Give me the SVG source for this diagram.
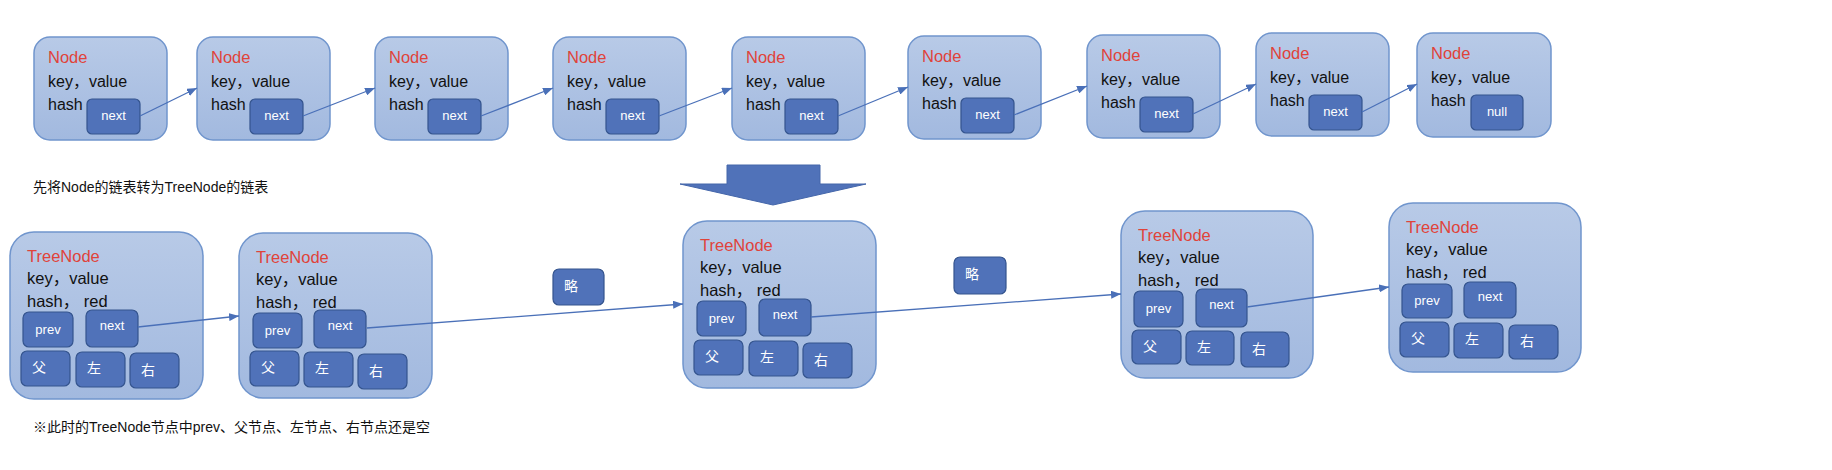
<svg xmlns="http://www.w3.org/2000/svg" width="1832" height="470" viewBox="0 0 1832 470">
<defs>
<linearGradient id="g" x1="0" y1="0" x2="0" y2="1">
<stop offset="0" stop-color="#b8cae7"/>
<stop offset="1" stop-color="#a2b9df"/>
</linearGradient>
<marker id="ah" markerWidth="10" markerHeight="8" refX="10" refY="4" orient="auto" markerUnits="userSpaceOnUse">
<path d="M0,0 L10,4 L0,8 z" fill="#4a70b8"/>
</marker>
</defs>
<style>
.outer{fill:url(#g);stroke:#7095cd;stroke-width:1.5}
.inner{fill:#5072b9;stroke:#34548e;stroke-width:1.2}
.t{font-family:"Liberation Sans","Noto Sans CJK SC",sans-serif;fill:#111}
.title{font-size:16.5px;fill:#e0433a}
.f{font-size:16px}
.tt{font-size:16.5px;fill:#e0433a}
.tf{font-size:16.5px}
.w{font-family:"Liberation Sans","Noto Sans CJK SC",sans-serif;fill:#ffffff;font-size:13px}
.wc{font-family:"Noto Sans CJK SC",sans-serif;fill:#ffffff;font-size:14px}
.note{font-family:"Liberation Sans","Noto Sans CJK SC",sans-serif;fill:#111;font-size:14px}
.arr{fill:none;stroke:#4a70b8;stroke-width:1.3;marker-end:url(#ah)}
</style>
<rect width="1832" height="470" fill="#ffffff"/>

<!-- Top row Nodes -->
<g id="node1" transform="translate(34,37)">
<rect class="outer" width="133" height="103" rx="16"/>
<text class="t title" x="14" y="26">Node</text>
<text class="t f" x="14" y="50">key，value</text>
<text class="t f" x="14" y="73">hash</text>
<rect class="inner" x="53" y="62" width="53" height="35" rx="5"/>
<text class="w" x="79.5" y="83" text-anchor="middle">next</text>
</g>
<g id="node2" transform="translate(197,37)">
<rect class="outer" width="133" height="103" rx="16"/>
<text class="t title" x="14" y="26">Node</text>
<text class="t f" x="14" y="50">key，value</text>
<text class="t f" x="14" y="73">hash</text>
<rect class="inner" x="53" y="62" width="53" height="35" rx="5"/>
<text class="w" x="79.5" y="83" text-anchor="middle">next</text>
</g>
<g id="node3" transform="translate(375,37)">
<rect class="outer" width="133" height="103" rx="16"/>
<text class="t title" x="14" y="26">Node</text>
<text class="t f" x="14" y="50">key，value</text>
<text class="t f" x="14" y="73">hash</text>
<rect class="inner" x="53" y="62" width="53" height="35" rx="5"/>
<text class="w" x="79.5" y="83" text-anchor="middle">next</text>
</g>
<g id="node4" transform="translate(553,37)">
<rect class="outer" width="133" height="103" rx="16"/>
<text class="t title" x="14" y="26">Node</text>
<text class="t f" x="14" y="50">key，value</text>
<text class="t f" x="14" y="73">hash</text>
<rect class="inner" x="53" y="62" width="53" height="35" rx="5"/>
<text class="w" x="79.5" y="83" text-anchor="middle">next</text>
</g>
<g id="node5" transform="translate(732,37)">
<rect class="outer" width="133" height="103" rx="16"/>
<text class="t title" x="14" y="26">Node</text>
<text class="t f" x="14" y="50">key，value</text>
<text class="t f" x="14" y="73">hash</text>
<rect class="inner" x="53" y="62" width="53" height="35" rx="5"/>
<text class="w" x="79.5" y="83" text-anchor="middle">next</text>
</g>
<g id="node6" transform="translate(908,36)">
<rect class="outer" width="133" height="103" rx="16"/>
<text class="t title" x="14" y="26">Node</text>
<text class="t f" x="14" y="50">key，value</text>
<text class="t f" x="14" y="73">hash</text>
<rect class="inner" x="53" y="62" width="53" height="35" rx="5"/>
<text class="w" x="79.5" y="83" text-anchor="middle">next</text>
</g>
<g id="node7" transform="translate(1087,35)">
<rect class="outer" width="133" height="103" rx="16"/>
<text class="t title" x="14" y="26">Node</text>
<text class="t f" x="14" y="50">key，value</text>
<text class="t f" x="14" y="73">hash</text>
<rect class="inner" x="53" y="62" width="53" height="35" rx="5"/>
<text class="w" x="79.5" y="83" text-anchor="middle">next</text>
</g>
<g id="node8" transform="translate(1256,33)">
<rect class="outer" width="133" height="103" rx="16"/>
<text class="t title" x="14" y="26">Node</text>
<text class="t f" x="14" y="50">key，value</text>
<text class="t f" x="14" y="73">hash</text>
<rect class="inner" x="53" y="62" width="53" height="35" rx="5"/>
<text class="w" x="79.5" y="83" text-anchor="middle">next</text>
</g>
<g id="node9" transform="translate(1417,33)">
<rect class="outer" width="134" height="104" rx="16"/>
<text class="t title" x="14" y="26">Node</text>
<text class="t f" x="14" y="50">key，value</text>
<text class="t f" x="14" y="73">hash</text>
<rect class="inner" x="54" y="62" width="52" height="35" rx="5"/>
<text class="w" x="80" y="83" text-anchor="middle">null</text>
</g>

<!-- Caption and big arrow -->
<text id="caption1" class="note" x="33" y="192">先将Node的链表转为TreeNode的链表</text>
<polygon id="bigarrow" points="727,165 820,165 820,184 866,184 773,205 680,184 727,184" fill="#5072b9" stroke="#4466aa" stroke-width="1"/>

<!-- Bottom row TreeNodes -->
<g id="tree1" transform="translate(10,232)">
<rect class="outer" width="193" height="167" rx="24"/>
<text class="t tt" x="17" y="30">TreeNode</text>
<text class="t tf" x="17" y="52">key，value</text>
<text class="t tf" x="17" y="75">hash， red</text>
<rect class="inner" x="13" y="80" width="50" height="35" rx="6"/>
<text class="w" x="38" y="102" text-anchor="middle">prev</text>
<rect class="inner" x="76" y="78" width="52" height="37" rx="6"/>
<text class="w" x="102" y="98" text-anchor="middle">next</text>
<rect class="inner" x="11" y="119" width="49" height="35" rx="6"/>
<text class="wc" x="22" y="140">父</text>
<rect class="inner" x="66" y="120" width="49" height="35" rx="6"/>
<text class="wc" x="77" y="141">左</text>
<rect class="inner" x="120" y="121" width="49" height="35" rx="6"/>
<text class="wc" x="131" y="143">右</text>
</g>
<g id="tree2" transform="translate(239,233)">
<rect class="outer" width="193" height="165" rx="24"/>
<text class="t tt" x="17" y="30">TreeNode</text>
<text class="t tf" x="17" y="52">key，value</text>
<text class="t tf" x="17" y="75">hash， red</text>
<rect class="inner" x="14" y="80" width="49" height="35" rx="6"/>
<text class="w" x="38.5" y="102" text-anchor="middle">prev</text>
<rect class="inner" x="75" y="77" width="52" height="38" rx="6"/>
<text class="w" x="101" y="97" text-anchor="middle">next</text>
<rect class="inner" x="11" y="118" width="49" height="35" rx="6"/>
<text class="wc" x="22" y="139">父</text>
<rect class="inner" x="65" y="119" width="49" height="35" rx="6"/>
<text class="wc" x="76" y="140">左</text>
<rect class="inner" x="119" y="121" width="49" height="35" rx="6"/>
<text class="wc" x="130" y="143">右</text>
</g>
<g id="tree3" transform="translate(683,221)">
<rect class="outer" width="193" height="167" rx="24"/>
<text class="t tt" x="17" y="30">TreeNode</text>
<text class="t tf" x="17" y="52">key，value</text>
<text class="t tf" x="17" y="75">hash， red</text>
<rect class="inner" x="14" y="80" width="49" height="35" rx="6"/>
<text class="w" x="38.5" y="102" text-anchor="middle">prev</text>
<rect class="inner" x="76" y="78" width="52" height="37" rx="6"/>
<text class="w" x="102" y="98" text-anchor="middle">next</text>
<rect class="inner" x="11" y="119" width="49" height="35" rx="6"/>
<text class="wc" x="22" y="140">父</text>
<rect class="inner" x="66" y="120" width="49" height="35" rx="6"/>
<text class="wc" x="77" y="141">左</text>
<rect class="inner" x="120" y="122" width="49" height="35" rx="6"/>
<text class="wc" x="131" y="144">右</text>
</g>
<g id="tree4" transform="translate(1121,211)">
<rect class="outer" width="192" height="167" rx="24"/>
<text class="t tt" x="17" y="30">TreeNode</text>
<text class="t tf" x="17" y="52">key，value</text>
<text class="t tf" x="17" y="75">hash， red</text>
<rect class="inner" x="13" y="80" width="49" height="36" rx="6"/>
<text class="w" x="37.5" y="102" text-anchor="middle">prev</text>
<rect class="inner" x="75" y="78" width="51" height="38" rx="6"/>
<text class="w" x="100.5" y="98" text-anchor="middle">next</text>
<rect class="inner" x="11" y="119" width="49" height="34" rx="6"/>
<text class="wc" x="22" y="140">父</text>
<rect class="inner" x="65" y="120" width="48" height="34" rx="6"/>
<text class="wc" x="76" y="141">左</text>
<rect class="inner" x="120" y="121" width="48" height="35" rx="6"/>
<text class="wc" x="131" y="143">右</text>
</g>
<g id="tree5" transform="translate(1389,203)">
<rect class="outer" width="192" height="169" rx="24"/>
<text class="t tt" x="17" y="30">TreeNode</text>
<text class="t tf" x="17" y="52">key，value</text>
<text class="t tf" x="17" y="75">hash， red</text>
<rect class="inner" x="13" y="81" width="50" height="34" rx="6"/>
<text class="w" x="38" y="102" text-anchor="middle">prev</text>
<rect class="inner" x="75" y="79" width="52" height="36" rx="6"/>
<text class="w" x="101" y="98" text-anchor="middle">next</text>
<rect class="inner" x="11" y="119" width="49" height="35" rx="6"/>
<text class="wc" x="22" y="140">父</text>
<rect class="inner" x="65" y="120" width="49" height="35" rx="6"/>
<text class="wc" x="76" y="141">左</text>
<rect class="inner" x="120" y="122" width="49" height="34" rx="6"/>
<text class="wc" x="131" y="143">右</text>
</g>

<!-- omitted markers -->
<g id="omit1">
<rect class="inner" x="553" y="269" width="51" height="36" rx="6"/>
<text class="wc" x="564" y="291">略</text>
</g>
<g id="omit2">
<rect class="inner" x="954" y="257" width="52" height="37" rx="6"/>
<text class="wc" x="965" y="279">略</text>
</g>

<text id="caption2" class="note" x="33" y="432">※此时的TreeNode节点中prev、父节点、左节点、右节点还是空</text>

<!-- Connectors -->
<g id="connectors">
<line class="arr" x1="140" y1="116" x2="197" y2="88"/>
<line class="arr" x1="303" y1="116" x2="375" y2="88"/>
<line class="arr" x1="481" y1="116" x2="553" y2="88"/>
<line class="arr" x1="659" y1="116" x2="732" y2="88"/>
<line class="arr" x1="838" y1="116" x2="908" y2="87"/>
<line class="arr" x1="1014" y1="115" x2="1087" y2="86"/>
<line class="arr" x1="1193" y1="114" x2="1256" y2="84"/>
<line class="arr" x1="1362" y1="112" x2="1417" y2="84"/>
<line class="arr" x1="138" y1="327" x2="239" y2="316"/>
<line class="arr" x1="367" y1="328" x2="683" y2="304"/>
<line class="arr" x1="811" y1="317" x2="1121" y2="294"/>
<line class="arr" x1="1247" y1="307" x2="1389" y2="287"/>
</g>
</svg>
